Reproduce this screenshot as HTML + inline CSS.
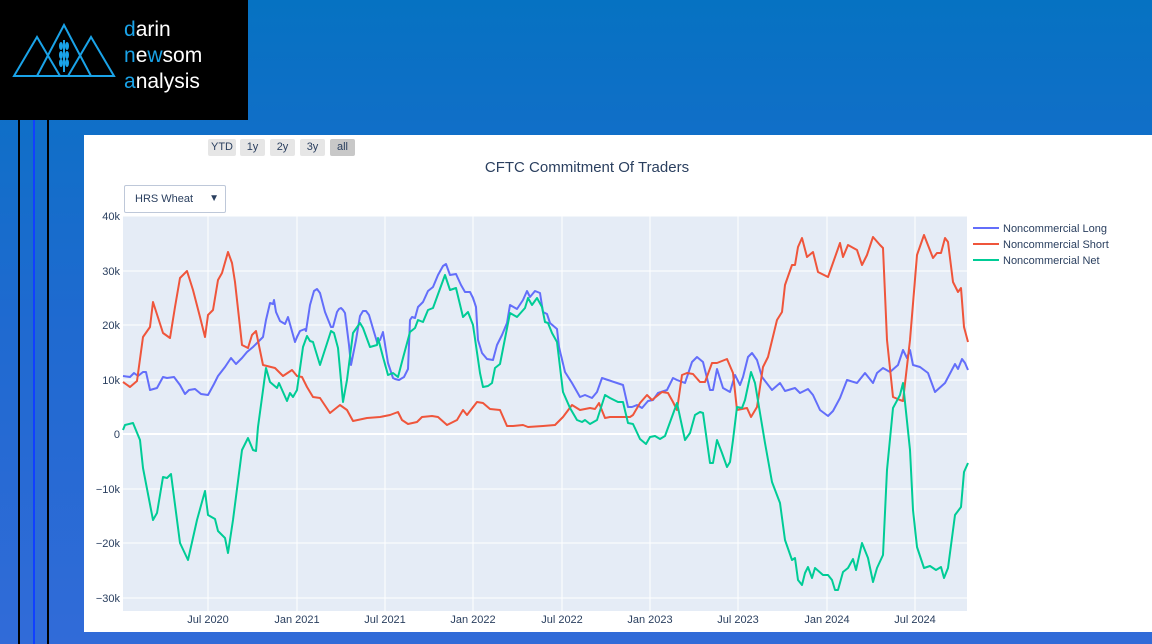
<!DOCTYPE html>
<html><head><meta charset="utf-8"><style>
body{margin:0;width:1152px;height:644px;overflow:hidden;background:linear-gradient(180deg,#0672c2 0%,#1f6ad0 50%,#316bd8 100%);font-family:"Liberation Sans",sans-serif;position:relative}
.logo{position:absolute;left:0;top:0;width:248px;height:120px;background:#000}
.vl{position:absolute;top:120px;height:524px;width:2px}
.panel{position:absolute;left:84px;top:135px;width:1068px;height:497px;background:#fff}
.btn{position:absolute;top:139px;height:17px;background:#e6e6e6;border-radius:2px;font-size:11px;color:#2a3f5f;text-align:center;line-height:17px}
</style></head><body>
<div class="logo">
<svg width="248" height="120">
<g fill="none" stroke="#1aa3e8" stroke-width="2">
<polygon points="14,76 37,37 60,76"/><polygon points="37,76 64,25 91,76"/><polygon points="14,76 114,76 91,37 68,76"/>
<line x1="64" y1="40" x2="64" y2="72"/>
</g>
<g fill="#1aa3e8"><ellipse cx="61" cy="46" rx="2" ry="4"/><ellipse cx="67" cy="46" rx="2" ry="4"/><ellipse cx="61" cy="55" rx="2" ry="4"/><ellipse cx="67" cy="55" rx="2" ry="4"/><ellipse cx="61" cy="63" rx="2" ry="4"/><ellipse cx="67" cy="63" rx="2" ry="4"/></g>
<g font-family="Liberation Sans,sans-serif" font-size="21" fill="#fff">
<text x="124" y="36"><tspan fill="#1aa3e8">d</tspan>arin</text>
<text x="124" y="62"><tspan fill="#1aa3e8">n</tspan>e<tspan fill="#1aa3e8">w</tspan>som</text>
<text x="124" y="88"><tspan fill="#1aa3e8">a</tspan>nalysis</text>
</g></svg></div>
<div class="vl" style="left:18px;background:#000"></div>
<div class="vl" style="left:33px;background:#1040ff"></div>
<div class="vl" style="left:47px;background:#000"></div>
<div class="panel"></div>
<div class="btn" style="left:208px;width:28px">YTD</div>
<div class="btn" style="left:240px;width:25px">1y</div>
<div class="btn" style="left:270px;width:25px">2y</div>
<div class="btn" style="left:300px;width:25px">3y</div>
<div class="btn" style="left:330px;width:25px;background:#c8c8c8">all</div>
<div style="position:absolute;left:124px;top:185px;width:100px;height:26px;border:1px solid #bec8d9;border-radius:2px;background:#fff;font-size:11px;color:#2a3f5f;line-height:26px"><span style="margin-left:10px">HRS Wheat</span><span style="position:absolute;right:6px;font-size:10px">▼</span></div>
<svg style="position:absolute;left:0;top:0" width="1152" height="644">
<rect x="123" y="216" width="844" height="395" fill="#e5ecf6"/>
<g stroke="#fff" stroke-width="1">
<line x1="208" y1="216" x2="208" y2="611"/><line x1="297" y1="216" x2="297" y2="611"/><line x1="385" y1="216" x2="385" y2="611"/><line x1="473" y1="216" x2="473" y2="611"/><line x1="562" y1="216" x2="562" y2="611"/><line x1="650" y1="216" x2="650" y2="611"/><line x1="738" y1="216" x2="738" y2="611"/><line x1="827" y1="216" x2="827" y2="611"/><line x1="915" y1="216" x2="915" y2="611"/>
<line x1="123" y1="216" x2="967" y2="216"/><line x1="123" y1="271" x2="967" y2="271"/><line x1="123" y1="325" x2="967" y2="325"/><line x1="123" y1="380" x2="967" y2="380"/><line x1="123" y1="489" x2="967" y2="489"/><line x1="123" y1="543" x2="967" y2="543"/><line x1="123" y1="598" x2="967" y2="598"/>
</g>
<line x1="123" y1="434" x2="967" y2="434" stroke="#fff" stroke-width="2"/>
<g font-size="11" fill="#2a3f5f" text-anchor="end">
<text x="120" y="220">40k</text><text x="120" y="275">30k</text><text x="120" y="329">20k</text><text x="120" y="384">10k</text><text x="120" y="438">0</text><text x="120" y="493">−10k</text><text x="120" y="547">−20k</text><text x="120" y="602">−30k</text>
</g>
<g font-size="11" fill="#2a3f5f" text-anchor="middle">
<text x="208" y="623">Jul 2020</text><text x="297" y="623">Jan 2021</text><text x="385" y="623">Jul 2021</text><text x="473" y="623">Jan 2022</text><text x="562" y="623">Jul 2022</text><text x="650" y="623">Jan 2023</text><text x="738" y="623">Jul 2023</text><text x="827" y="623">Jan 2024</text><text x="915" y="623">Jul 2024</text>
</g>
<text x="587" y="172" font-size="15" fill="#2a3f5f" text-anchor="middle">CFTC Commitment Of Traders</text>
<g fill="none" stroke-width="2" stroke-linejoin="round">
<polyline stroke="#636efa" points="123,376 130,377 134,373 138,376 143,372 146,372 150,390 157,388 163,377 167,378 174,377 180,385 185,394 189,390 195,389 201,394 208,395 214,384 218,376 225,367 231,358 236,364 242,358 247,352 253,347 258,342 263,337 266,320 270,303 273,304 274,300 276,312 280,321 285,324 288,317 295,342 297,337 300,331 305,329 306,331 310,305 314,291 317,289 320,293 325,312 331,327 333,327 337,312 339,309 341,308 343,310 345,313 349,345 351,365 356,340 360,316 363,311 366,311 369,315 374,332 377,342 380,340 383,332 388,363 393,378 395,379 399,380 404,377 408,369 410,320 412,317 415,318 418,307 423,302 428,291 433,287 438,275 443,266 446,264 450,275 456,274 461,285 465,292 470,292 473,298 476,307 478,340 482,353 487,359 493,360 497,345 502,335 507,323 510,305 517,309 523,300 527,291 530,297 535,291 540,293 543,312 547,314 550,323 557,329 559,347 565,372 572,383 580,397 585,395 592,398 597,392 602,378 608,380 617,383 623,385 628,407 632,407 637,405 642,408 648,401 653,400 658,393 667,390 673,378 677,380 685,383 692,362 697,357 703,362 710,390 713,390 717,369 723,388 730,392 735,375 740,385 743,377 748,357 752,353 757,360 762,377 772,390 780,383 785,391 795,388 800,393 808,389 813,395 820,410 828,416 833,411 840,398 847,380 857,383 865,373 873,383 877,373 883,368 890,372 898,365 903,350 907,358 910,350 913,365 920,367 928,373 935,392 945,383 955,364 958,369 962,359 965,363 968,370"/>
<polyline stroke="#EF553B" points="123,382 130,387 137,381 143,337 150,327 153,302 163,333 170,338 175,307 180,278 187,271 193,290 200,317 205,337 208,315 213,310 218,280 222,273 228,252 232,263 235,282 242,345 248,348 252,335 256,331 263,365 275,368 283,376 292,370 297,376 302,377 307,387 313,397 320,398 330,413 340,405 347,410 353,421 367,418 380,417 390,415 398,412 402,420 408,424 417,422 422,417 432,416 438,417 447,425 457,420 463,410 467,415 477,402 483,403 490,409 500,410 507,426 513,426 523,425 528,427 543,426 555,425 563,417 572,405 580,410 590,408 595,409 599,403 605,418 610,417 630,417 633,415 640,403 647,395 652,400 662,392 668,393 673,402 677,410 682,375 687,373 693,374 700,382 705,382 712,363 717,363 727,359 733,373 737,410 747,408 751,417 757,407 763,367 768,357 777,320 782,312 785,285 792,265 795,265 798,247 802,238 807,257 813,252 818,272 828,277 840,243 843,257 848,245 857,250 862,265 867,255 873,237 880,245 883,248 887,340 893,397 900,400 903,401 910,340 917,255 924,235 933,258 937,253 941,253 945,238 948,242 953,282 958,292 961,288 964,327 968,342"/>
<polyline stroke="#00cc96" points="123,430 125,425 133,423 140,440 143,468 153,520 157,513 163,477 167,478 171,474 180,543 188,560 197,520 205,491 208,515 215,519 218,531 225,538 228,553 233,520 242,450 248,438 253,450 256,451 258,427 266,368 270,382 277,388 279,383 287,401 290,393 293,397 297,390 303,347 307,336 310,341 313,342 320,365 331,331 334,333 338,348 343,402 347,380 353,333 360,323 363,328 370,347 377,345 378,338 383,357 388,375 393,373 398,377 403,358 410,332 415,328 418,320 423,322 428,310 433,308 445,275 450,290 456,288 463,317 468,312 473,325 480,373 483,387 488,386 492,383 495,368 500,364 510,313 517,317 525,308 528,298 532,305 537,298 542,307 545,322 548,323 552,333 557,342 563,392 570,408 577,420 582,422 585,420 590,424 597,420 605,395 610,398 618,402 623,402 628,423 633,424 640,439 646,444 650,437 655,436 660,439 665,436 677,403 685,440 690,433 695,415 700,412 703,413 710,463 713,463 717,440 722,453 727,467 730,462 733,440 737,407 742,408 745,400 751,372 755,383 760,413 765,443 772,482 780,503 785,540 792,560 795,558 798,580 802,585 805,573 808,567 812,578 815,568 823,575 828,575 832,580 835,590 838,590 843,572 848,568 853,559 856,570 862,543 868,558 873,582 877,568 883,555 887,470 893,408 900,395 903,383 910,450 913,510 917,547 924,568 930,566 936,570 941,567 944,578 948,568 955,515 961,507 964,472 968,463"/>
</g>
<g font-size="11" fill="#2a3f5f">
<line x1="973" y1="228" x2="999" y2="228" stroke="#636efa" stroke-width="2"/><text x="1003" y="232">Noncommercial Long</text>
<line x1="973" y1="244" x2="999" y2="244" stroke="#EF553B" stroke-width="2"/><text x="1003" y="248">Noncommercial Short</text>
<line x1="973" y1="260" x2="999" y2="260" stroke="#00cc96" stroke-width="2"/><text x="1003" y="264">Noncommercial Net</text>
</g>
</svg>
</body></html>
